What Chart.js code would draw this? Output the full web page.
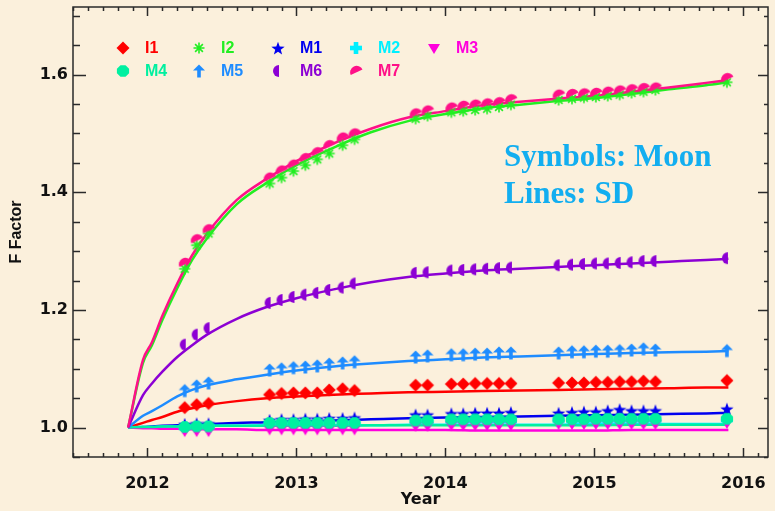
<!DOCTYPE html>
<html>
<head>
<meta charset="utf-8">
<script src="https://cdn.jsdelivr.net/npm/chart.js@4.4.1/dist/chart.umd.min.js"></script>
<style>
  html, body { margin: 0; padding: 0; background: #fbf0dc; }
  #wrap { width: 775px; height: 511px; }
</style>
</head>
<body>
<div id="wrap"><canvas id="ffactor" width="775" height="511"></canvas></div>
<script>
// lunar collection dates (decimal year)
const moonDates = [2012.25, 2012.33, 2012.41, 2012.82, 2012.90, 2012.98, 2013.06, 2013.14, 2013.22, 2013.31, 2013.39,
  2013.80, 2013.88, 2014.04, 2014.12, 2014.20, 2014.28, 2014.36, 2014.44,
  2014.76, 2014.85, 2014.93, 2015.01, 2015.09, 2015.17, 2015.25, 2015.33, 2015.41, 2015.89];

// F factor from moon (symbols)
const moonI1 = [1.034, 1.039, 1.041, 1.056, 1.058, 1.059, 1.059, 1.059, 1.064, 1.066, 1.063, 1.072, 1.072, 1.074, 1.074, 1.075, 1.075, 1.075, 1.075, 1.076, 1.076, 1.076, 1.077, 1.077, 1.078, 1.078, 1.079, 1.078, 1.080];
const moonI2 = [1.270, 1.310, 1.330, 1.415, 1.425, 1.436, 1.446, 1.456, 1.466, 1.480, 1.490, 1.525, 1.530, 1.536, 1.538, 1.540, 1.542, 1.545, 1.549, 1.557, 1.559, 1.561, 1.562, 1.564, 1.566, 1.569, 1.571, 1.574, 1.587];
const moonM1 = [1.006, 1.007, 1.007, 1.013, 1.014, 1.014, 1.015, 1.015, 1.016, 1.016, 1.017, 1.022, 1.022, 1.024, 1.024, 1.025, 1.025, 1.025, 1.026, 1.025, 1.026, 1.027, 1.027, 1.029, 1.031, 1.029, 1.029, 1.029, 1.032];
const moonM2 = [1.000, 1.001, 1.001, 1.006, 1.006, 1.006, 1.006, 1.006, 1.006, 1.006, 1.006, 1.010, 1.010, 1.011, 1.011, 1.011, 1.011, 1.011, 1.011, 1.012, 1.012, 1.012, 1.012, 1.012, 1.012, 1.012, 1.012, 1.012, 1.013];
const moonM3 = [0.994, 0.994, 0.994, 0.997, 0.997, 0.997, 0.997, 0.997, 0.997, 0.997, 0.997, 1.003, 1.003, 1.004, 1.004, 1.004, 1.004, 1.004, 1.004, 1.006, 1.006, 1.006, 1.006, 1.006, 1.006, 1.006, 1.006, 1.006, 1.008];
const moonM4 = [1.001, 1.002, 1.002, 1.008, 1.008, 1.008, 1.008, 1.008, 1.008, 1.008, 1.008, 1.012, 1.012, 1.014, 1.014, 1.014, 1.014, 1.014, 1.014, 1.014, 1.014, 1.014, 1.015, 1.015, 1.015, 1.015, 1.015, 1.015, 1.015];
const moonM5 = [1.063, 1.071, 1.076, 1.098, 1.100, 1.102, 1.103, 1.105, 1.108, 1.110, 1.112, 1.120, 1.122, 1.124, 1.124, 1.125, 1.125, 1.127, 1.127, 1.127, 1.129, 1.129, 1.130, 1.130, 1.131, 1.132, 1.134, 1.132, 1.131];
const moonM6 = [1.141, 1.158, 1.169, 1.212, 1.217, 1.222, 1.226, 1.229, 1.234, 1.238, 1.245, 1.263, 1.264, 1.267, 1.268, 1.269, 1.270, 1.271, 1.272, 1.276, 1.277, 1.278, 1.279, 1.279, 1.280, 1.281, 1.283, 1.283, 1.288];
const moonM7 = [1.280, 1.320, 1.337, 1.425, 1.437, 1.447, 1.458, 1.468, 1.480, 1.493, 1.500, 1.534, 1.539, 1.544, 1.547, 1.549, 1.551, 1.553, 1.558, 1.566, 1.567, 1.568, 1.569, 1.571, 1.573, 1.575, 1.577, 1.578, 1.594];

// F factor from solar diffuser (lines)
const sdDates = [2011.87, 2011.97, 2012.03, 2012.10, 2012.20, 2012.30, 2012.40, 2012.60, 2012.80, 2013.00, 2013.25,
  2013.50, 2013.75, 2014.00, 2014.25, 2014.50, 2014.75, 2015.00, 2015.25, 2015.50, 2015.75, 2015.90];
const sdI1 = [1.000, 1.008, 1.013, 1.018, 1.027, 1.033, 1.038, 1.045, 1.050, 1.053, 1.056, 1.058, 1.060, 1.061, 1.062, 1.063, 1.064, 1.065, 1.066, 1.067, 1.068, 1.068];
const sdI2 = [1.000, 1.110, 1.140, 1.183, 1.237, 1.285, 1.322, 1.380, 1.416, 1.446, 1.476, 1.502, 1.521, 1.533, 1.543, 1.549, 1.555, 1.560, 1.567, 1.575, 1.582, 1.587];
const sdM1 = [1.000, 1.001, 1.002, 1.003, 1.004, 1.005, 1.006, 1.008, 1.009, 1.011, 1.012, 1.014, 1.016, 1.017, 1.018, 1.019, 1.020, 1.021, 1.022, 1.023, 1.024, 1.025];
const sdM2 = [1.000, 1.001, 1.001, 1.002, 1.002, 1.003, 1.003, 1.003, 1.004, 1.004, 1.004, 1.004, 1.005, 1.005, 1.005, 1.005, 1.005, 1.006, 1.006, 1.006, 1.006, 1.006];
const sdM3 = [1.000, 0.999, 0.999, 0.998, 0.998, 0.997, 0.997, 0.997, 0.996, 0.996, 0.996, 0.996, 0.996, 0.996, 0.995, 0.995, 0.995, 0.995, 0.996, 0.996, 0.996, 0.996];
const sdM4 = [1.000, 1.001, 1.001, 1.002, 1.002, 1.002, 1.003, 1.003, 1.003, 1.003, 1.003, 1.004, 1.004, 1.004, 1.004, 1.004, 1.004, 1.004, 1.005, 1.005, 1.005, 1.005];
const sdM5 = [1.000, 1.020, 1.028, 1.038, 1.053, 1.064, 1.072, 1.082, 1.090, 1.097, 1.104, 1.109, 1.113, 1.116, 1.119, 1.121, 1.123, 1.125, 1.127, 1.128, 1.129, 1.130];
const sdM6 = [1.000, 1.055, 1.075, 1.095, 1.120, 1.140, 1.158, 1.185, 1.205, 1.220, 1.235, 1.247, 1.256, 1.262, 1.267, 1.270, 1.273, 1.276, 1.279, 1.282, 1.285, 1.287];
const sdM7 = [1.000, 1.115, 1.145, 1.190, 1.245, 1.293, 1.330, 1.387, 1.423, 1.453, 1.483, 1.508, 1.527, 1.538, 1.548, 1.554, 1.559, 1.564, 1.571, 1.578, 1.586, 1.591];

const bandNames = ['I1', 'I2', 'M1', 'M2', 'M3', 'M4', 'M5', 'M6', 'M7'];
const bandColors = ['#ff0000', '#22ee22', '#0000f0', '#00f0ff', '#ff00dd', '#00f0a0', '#1e8cff', '#8c00d4', '#ff1088'];

const yTickValues = [1.0, 1.2, 1.4, 1.6];
const xTickValues = [2012, 2013, 2014, 2015, 2016];

// petits symboles façon IDL
function marker(color, draw) {
  const c = document.createElement('canvas');
  c.width = 16; c.height = 16;
  const g = c.getContext('2d');
  g.translate(8, 8);
  g.fillStyle = color; g.strokeStyle = color;
  g.beginPath();
  draw(g);
  return c;
}
function poly(g, pts) {
  pts.forEach(([x, y], i) => (i ? g.lineTo(x, y) : g.moveTo(x, y)));
  g.closePath(); g.fill();
}
const shapes = [
  g => poly(g, [[0, -6.5], [6.5, 0], [0, 6.5], [-6.5, 0]]),
  g => { g.lineWidth = 1.6; [0, 45, 90, 135].forEach(a => { const r = a * Math.PI / 180; g.moveTo(-5.5 * Math.cos(r), -5.5 * Math.sin(r)); g.lineTo(5.5 * Math.cos(r), 5.5 * Math.sin(r)); }); g.stroke(); },
  g => { const p = []; for (let i = 0; i < 10; i++) { const r = i % 2 ? 2.9 : 7; const a = -Math.PI / 2 + i * Math.PI / 5; p.push([r * Math.cos(a), r * Math.sin(a) + 0.8]); } poly(g, p); },
  g => { g.fillRect(-6, -2.3, 12, 4.6); g.fillRect(-2.3, -6, 4.6, 12); },
  g => poly(g, [[-6, -4], [6, -4], [0, 6]]),
  g => { const p = []; for (let i = 0; i < 8; i++) { const a = Math.PI / 8 + i * Math.PI / 4; p.push([6.6 * Math.cos(a), 6.2 * Math.sin(a)]); } poly(g, p); },
  g => { poly(g, [[0, -6.5], [6, -0.5], [-6, -0.5]]); g.fillRect(-1.8, -1, 3.6, 7.5); },
  g => { g.arc(1, 0, 6, Math.PI / 2, 3 * Math.PI / 2); g.closePath(); g.fill(); },
  g => { g.rotate(-25 * Math.PI / 180); g.arc(0, 1.5, 6.5, Math.PI, 2 * Math.PI); g.closePath(); g.fill(); }
];
const markers = shapes.map((s, i) => marker(bandColors[i], s));

const moonSeries = [moonI1, moonI2, moonM1, moonM2, moonM3, moonM4, moonM5, moonM6, moonM7];
const sdSeries = [sdI1, sdI2, sdM1, sdM2, sdM3, sdM4, sdM5, sdM6, sdM7];

const datasets = [];
bandNames.forEach((name, i) => {
  datasets.push({
    label: name + ' SD',
    data: sdDates.map((x, k) => ({ x, y: sdSeries[i][k] })),
    borderColor: bandColors[i],
    borderWidth: 2.5,
    pointRadius: 0,
    cubicInterpolationMode: 'monotone',
    order: 100 - i
  });
  datasets.push({
    label: name,
    data: moonDates.map((x, k) => ({ x, y: moonSeries[i][k] })),
    showLine: false,
    pointStyle: markers[i],
    pointRadius: 6,
    order: 50 - i
  });
});

// cadre et graduations vers l'intérieur
const frameTicks = {
  id: 'frameTicks',
  beforeDraw(chart) {
    const ctx = chart.ctx;
    ctx.save();
    ctx.fillStyle = '#fbf0dc';
    ctx.fillRect(0, 0, chart.width, chart.height);
    ctx.restore();
  },
  beforeDatasetsDraw(chart) {
    const { ctx, chartArea: { left, right, top, bottom } } = chart;
    const xs = chart.scales.x, ys = chart.scales.y;
    ctx.save();
    ctx.strokeStyle = '#2a2a2a';
    ctx.lineWidth = 1.5;
    ctx.strokeRect(left, top, right - left, bottom - top);
    ctx.beginPath();
    for (let v = 0.95; v <= ys.max + 1e-6; v += 0.05) {
      const major = yTickValues.some(t => Math.abs(t - v) < 1e-6);
      const py = Math.round(ys.getPixelForValue(v)) + 0.5;
      ctx.moveTo(left, py); ctx.lineTo(left + (major ? 13 : 7), py);
      ctx.moveTo(right, py); ctx.lineTo(right - (major ? 10 : 4), py);
    }
    for (let k = 0; 2011.5 + k * 0.1 <= xs.max + 1e-6; k++) {
      const v = 2011.5 + k * 0.1;
      const major = xTickValues.some(t => Math.abs(t - v) < 1e-6);
      const px = Math.round(xs.getPixelForValue(v)) + 0.5;
      ctx.moveTo(px, bottom); ctx.lineTo(px, bottom - (major ? 9 : 4));
      ctx.moveTo(px, top); ctx.lineTo(px, top + (major ? 9 : 4));
    }
    ctx.stroke();
    ctx.restore();
  },
  afterDraw(chart) {
    const ctx = chart.ctx;
    ctx.save();
    // légende sur deux rangées
    const cols = [123, 199, 278, 356, 434];
    ctx.font = 'bold 16px "Liberation Sans", Arial, sans-serif';
    ctx.textBaseline = 'middle';
    bandNames.forEach((name, i) => {
      const x = cols[i < 5 ? i : i - 5];
      const y = i < 5 ? 48 : 71;
      ctx.drawImage(markers[i], x - 8, y - 8);
      ctx.fillStyle = bandColors[i];
      ctx.fillText(name, x + 22, y + 1);
    });
    ctx.font = 'bold 31px "Liberation Serif", "Times New Roman", serif';
    ctx.fillStyle = '#12aef0';
    ctx.textBaseline = 'alphabetic';
    ctx.fillText('Symbols: Moon', 504, 166);
    ctx.fillText('Lines: SD', 504, 203);
    ctx.restore();
  }
};

new Chart(document.getElementById('ffactor'), {
  type: 'line',
  data: { datasets },
  options: {
    responsive: false,
    animation: false,
    devicePixelRatio: 1,
    layout: { padding: { top: 6, right: 1, left: 0, bottom: 0 } },
    plugins: { legend: { display: false }, tooltip: { enabled: false } },
    scales: {
      x: {
        type: 'linear',
        min: 2011.5,
        max: 2016.166,
        afterFit: s => { s.height = 54; s.paddingLeft = 0; s.paddingRight = 0; },
        afterBuildTicks: s => { s.ticks = xTickValues.map(value => ({ value })); },
        grid: { display: false, drawTicks: false },
        border: { display: false },
        ticks: { color: '#111', padding: 17, maxRotation: 0, font: { family: '"DejaVu Sans", sans-serif', weight: 'bold', size: 16 }, callback: v => String(v) },
        title: { display: true, text: 'Year', color: '#111', padding: { top: 0, bottom: 2 }, font: { family: '"DejaVu Sans", sans-serif', weight: 'bold', size: 16 } }
      },
      y: {
        type: 'linear',
        min: 0.95,
        max: 1.715,
        afterFit: s => { s.width = 73; s.paddingTop = 0; s.paddingBottom = 0; },
        afterBuildTicks: s => { s.ticks = yTickValues.map(value => ({ value })); },
        grid: { display: false, drawTicks: false },
        border: { display: false },
        ticks: { color: '#111', padding: 5, font: { family: '"DejaVu Sans", sans-serif', weight: 'bold', size: 16 }, callback: v => v.toFixed(1) },
        title: { display: true, text: 'F Factor', color: '#111', padding: { top: 7, bottom: 0 }, font: { family: '"Liberation Sans", Arial, sans-serif', weight: 'bold', size: 16 } }
      }
    }
  },
  plugins: [frameTicks]
});
</script>
</body>
</html>
